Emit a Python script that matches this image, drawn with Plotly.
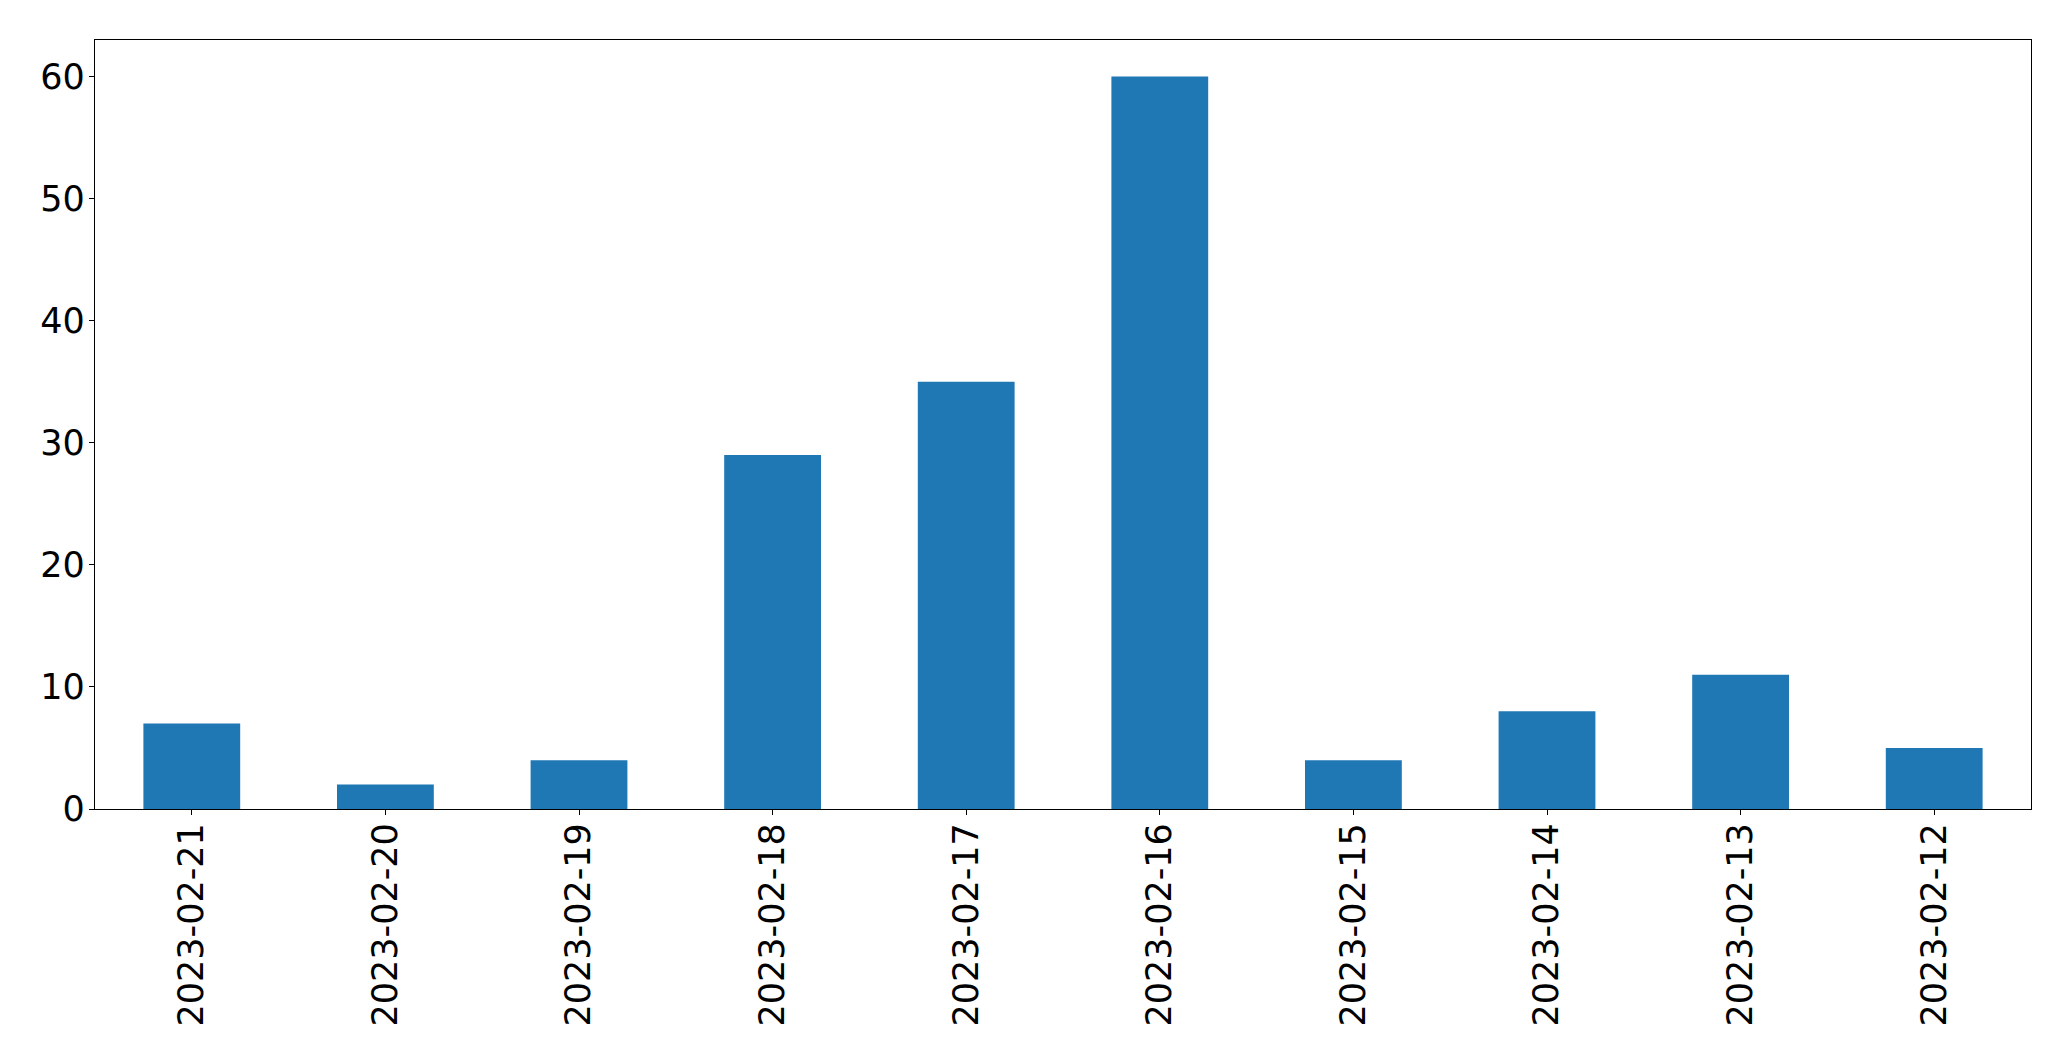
import plotly.graph_objects as go

dates = ["2023-02-21", "2023-02-20", "2023-02-19", "2023-02-18", "2023-02-17",
         "2023-02-16", "2023-02-15", "2023-02-14", "2023-02-13", "2023-02-12"]
counts = [7, 2, 4, 29, 35, 60, 4, 8, 11, 5]
y_ticks = [0, 10, 20, 30, 40, 50, 60]

fig = go.Figure(go.Bar(x=dates, y=counts, width=0.5, marker=dict(color="#1f77b4", line=dict(width=0))))

axis_common = dict(showline=True, mirror=True, linecolor="black", linewidth=1.3,
                   ticks="outside", ticklen=5, tickwidth=1.3, tickcolor="black",
                   showgrid=False, zeroline=False,
                   tickfont=dict(family="DejaVu Sans", size=35, color="black"))

fig.update_xaxes(type="category", range=[-0.5, 9.5], tickangle=-90, ticklabelstandoff=-6, **axis_common)
fig.update_yaxes(range=[0, 63], tickvals=y_ticks, ticklabelstandoff=-3, **axis_common)

fig.update_layout(width=2063, height=1053, plot_bgcolor="white", paper_bgcolor="white",
                  margin=dict(l=86.5, r=40, t=31.5, b=252, autoexpand=False), showlegend=False)

fig.write_html("out.html")
